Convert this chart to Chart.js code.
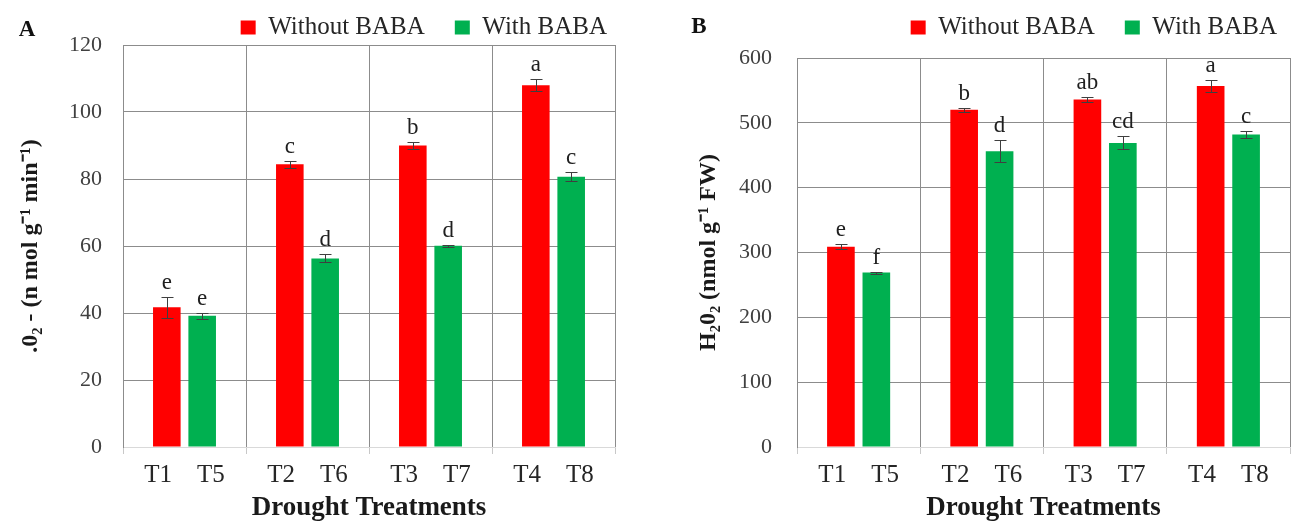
<!DOCTYPE html>
<html>
<head>
<meta charset="utf-8">
<script src="https://cdn.jsdelivr.net/npm/chart.js@4.4.1/dist/chart.umd.min.js"></script>
<style>
  html, body { margin: 0; padding: 0; background: #fff; overflow: hidden; width: 1291px; height: 522px; }
  .panel { position: absolute; top: 0; }
  #panelA { left: 0; }
  #panelB { left: 645px; }
</style>
</head>
<body>
<div class="panel" id="panelA"><canvas id="chartA" width="645" height="522"></canvas></div>
<div class="panel" id="panelB"><canvas id="chartB" width="665" height="522"></canvas></div>
<script>
Chart.defaults.font.family = '"Liberation Serif", "Times New Roman", serif';
Chart.defaults.color = "#262626";

const withoutBaba = ["T1", "T2", "T3", "T4"];
const withBaba = ["T5", "T6", "T7", "T8"];
const seriesNames = ["Without BABA", "With BABA"];

// panel A - superoxide
const superoxideWithout = [41.7, 84.4, 90.0, 108.0];
const superoxideWithoutErr = [3.2, 1.0, 1.0, 1.8];
const superoxideWithoutLetters = ["e", "c", "b", "a"];
const superoxideWith = [39.2, 56.3, 60.1, 80.7];
const superoxideWithErr = [0.9, 1.2, 0.3, 1.3];
const superoxideWithLetters = ["e", "d", "d", "c"];
const superoxideTicks = [0, 20, 40, 60, 80, 100, 120];

// panel B - hydrogen peroxide
const peroxideWithout = [309, 520, 536, 557];
const peroxideWithoutErr = [3.6, 3.5, 3.5, 9];
const peroxideWithoutLetters = ["e", "b", "ab", "a"];
const peroxideWith = [269, 456, 469, 482];
const peroxideWithErr = [1.5, 17, 10, 6];
const peroxideWithLetters = ["f", "d", "cd", "c"];
const peroxideTicks = [0, 100, 200, 300, 400, 500, 600];

const groupLabels = withoutBaba.map((t, i) => t + "    " + withBaba[i]);

// error bars + significance letters, and the panel letter
const errorBarsAndLetters = {
  id: "errorBarsAndLetters",
  afterDatasetsDraw(chart) {
    const { ctx } = chart;
    const y = chart.scales.y;
    chart.data.datasets.forEach((ds, di) => {
      chart.getDatasetMeta(di).data.forEach((bar, i) => {
        const top = Math.round(y.getPixelForValue(ds.data[i] + ds.errors[i])) + 0.5;
        const bottom = Math.round(y.getPixelForValue(ds.data[i] - ds.errors[i])) + 0.5;
        const x = Math.round(bar.x) + 0.5;
        ctx.save();
        ctx.strokeStyle = "#3f3f3f";
        ctx.lineWidth = 1;
        ctx.beginPath();
        ctx.moveTo(x, bottom); ctx.lineTo(x, top);
        ctx.moveTo(x - 6, top); ctx.lineTo(x + 6, top);
        ctx.moveTo(x - 6, bottom); ctx.lineTo(x + 6, bottom);
        ctx.stroke();
        ctx.fillStyle = "#1f1f1f";
        ctx.font = '23px "Liberation Serif"';
        ctx.textAlign = "center";
        ctx.textBaseline = "alphabetic";
        ctx.fillText(ds.letters[i], bar.x, top - 9);
        ctx.restore();
      });
    });
  },
  afterDraw(chart, args, opts) {
    const { ctx } = chart;
    ctx.save();
    ctx.fillStyle = "#111";
    ctx.font = 'bold 23px "Liberation Serif"';
    ctx.textAlign = "center";
    ctx.textBaseline = "middle";
    ctx.fillText(opts.panel, opts.x, opts.y);
    ctx.restore();
  },
};

function buildChart(canvasId, p) {
  return new Chart(document.getElementById(canvasId), {
    type: "bar",
    data: {
      labels: groupLabels,
      datasets: [
        { label: seriesNames[0], data: p.without, errors: p.withoutErr, letters: p.withoutLetters,
          backgroundColor: "#ff0000", borderWidth: 0, xAxisID: "x", yAxisID: "y" },
        { label: seriesNames[1], data: p.with, errors: p.withErr, letters: p.withLetters,
          backgroundColor: "#00b050", borderWidth: 0, xAxisID: "x", yAxisID: "y" },
      ],
    },
    options: {
      responsive: false,
      animation: false,
      layout: { padding: { left: 0, right: p.padRight, top: -15, bottom: 0 } },
      datasets: { bar: { categoryPercentage: 0.575, barPercentage: 0.78 } },
      plugins: {
        legend: {
          position: "top",
          align: "end",
          maxHeight: p.legendHeight,
          labels: { boxWidth: 15, boxHeight: 14, padding: 30, color: "#262626", font: { size: 25 } },
        },
        tooltip: { enabled: false },
        errorBarsAndLetters: { panel: p.panel, x: p.panelX, y: p.panelY },
      },
      scales: {
        x: {
          offset: true,
          grid: { offset: true, color: "#8c8c8c", tickColor: "#c8c8c8", tickLength: 7 },
          border: { color: "#d9d9d9" },
          ticks: { color: "#262626", font: { size: 25 }, padding: 6, maxRotation: 0, autoSkip: false },
          title: { display: true, text: "Drought Treatments", color: "#1a1a1a",
                   font: { size: 27, weight: "bold" }, padding: { top: 0, bottom: -2 } },
          afterFit: (s) => { s.height = 75; },
        },
        y: {
          min: p.ticks[0],
          max: p.ticks[p.ticks.length - 1],
          ticks: { stepSize: p.ticks[1] - p.ticks[0], color: "#404040", font: { size: 22 }, padding: p.tickPad },
          grid: { drawTicks: false, color: (c) => (c.tick && c.tick.value === 0 ? "#d9d9d9" : "#8c8c8c") },
          border: { color: "#8c8c8c" },
          title: { display: true, text: p.yTitle, color: "#1a1a1a",
                   font: { size: 24, weight: "bold" }, padding: { top: p.titlePad, bottom: 0 } },
          afterFit: (s) => { s.width = p.axisWidth; },
        },
        y2: {
          type: "linear",
          position: "right",
          grid: { display: false },
          ticks: { display: false },
          border: { display: false },
          afterFit: (s) => { s.width = p.rightGap; },
        },
        x2: {
          type: "category",
          position: "top",
          grid: { display: false },
          ticks: { display: false },
          border: { display: false },
          afterFit: (s) => { s.height = p.topGap; },
        },
      },
    },
    plugins: [errorBarsAndLetters],
  });
}

buildChart("chartA", {
  without: superoxideWithout, withoutErr: superoxideWithoutErr, withoutLetters: superoxideWithoutLetters,
  with: superoxideWith, withErr: superoxideWithErr, withLetters: superoxideWithLetters,
  ticks: superoxideTicks,
  yTitle: ".0\u2082 - (n mol g\u207B\u00B9 min\u207B\u00B9)",
  panel: "A", panelX: 27, panelY: 30,
  padRight: 8, rightGap: 22, legendHeight: 60, topGap: 0,
  axisWidth: 123, tickPad: 21, titlePad: 16,
});

buildChart("chartB", {
  without: peroxideWithout, withoutErr: peroxideWithoutErr, withoutLetters: peroxideWithoutLetters,
  with: peroxideWith, withErr: peroxideWithErr, withLetters: peroxideWithLetters,
  ticks: peroxideTicks,
  yTitle: "H\u20820\u2082 (nmol g\u207B\u00B9 FW)",
  panel: "B", panelX: 54, panelY: 27,
  padRight: 3, rightGap: 17, legendHeight: undefined, topGap: 8,
  axisWidth: 152, tickPad: 25, titlePad: 49,
});
</script>
</body>
</html>
